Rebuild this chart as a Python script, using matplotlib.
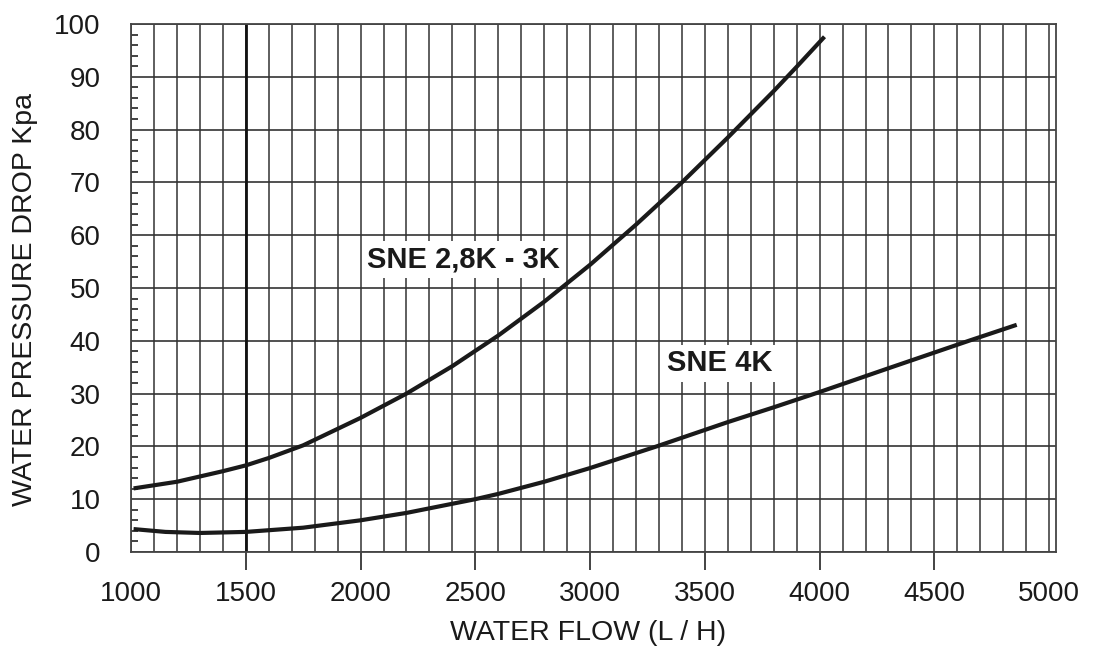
import matplotlib
matplotlib.use('Agg')
import matplotlib.pyplot as plt
from matplotlib.ticker import MultipleLocator

plt.rcParams['font.family'] = ['Liberation Sans', 'DejaVu Sans']

# (flow L/H, pressure drop kPa)
flow_sne_28k = [1020, 1200, 1400, 1500, 1600, 1750, 2000, 2200, 2400, 2600,
                2800, 3000, 3200, 3400, 3600, 3800, 3900, 4015]
drop_sne_28k = [12.1, 13.3, 15.3, 16.4, 17.8, 20.2, 25.4, 30.0, 35.2, 41.0,
                47.4, 54.4, 62.0, 70.0, 78.5, 87.3, 91.9, 97.3]

flow_sne_4k = [1020, 1150, 1300, 1500, 1750, 2000, 2200, 2500, 2600, 2800,
               3000, 3290, 3600, 3800, 4000, 4300, 4650, 4850]
drop_sne_4k = [4.3, 3.8, 3.6, 3.8, 4.6, 6.0, 7.4, 10.0, 11.0, 13.3,
               15.9, 20.0, 24.6, 27.4, 30.3, 34.8, 40.0, 42.9]

x_ticks = [1000, 1500, 2000, 2500, 3000, 3500, 4000, 4500, 5000]
y_ticks = [0, 10, 20, 30, 40, 50, 60, 70, 80, 90, 100]
marker_flow = 1500

curve_labels = ['SNE 2,8K - 3K', 'SNE 4K']
label_pos = [(2030, 55.4), (3335, 35.7)]

fig = plt.figure(figsize=(10.93, 6.49), dpi=100)
ax = fig.add_axes([0.1199, 0.1495, 0.8463, 0.8135])

ax.set_xlim(1000, 5030)
ax.set_ylim(0, 100)
ax.set_xticks(x_ticks)
ax.set_yticks(y_ticks)
ax.xaxis.set_minor_locator(MultipleLocator(100))
ax.yaxis.set_minor_locator(MultipleLocator(2))

# grid: every 100 L/H vertically, every 10 kPa horizontally
ax.grid(axis='x', which='both', color='#333333', linewidth=1.1, zorder=1)
ax.grid(axis='y', which='major', color='#333333', linewidth=1.2, zorder=1)
ax.set_axisbelow(True)

ax.axvline(marker_flow, color='#111111', linewidth=2.0, zorder=2)

ax.plot(flow_sne_28k, drop_sne_28k, color='#1a1a1a', linewidth=3.0, zorder=4)
ax.plot(flow_sne_4k, drop_sne_4k, color='#1a1a1a', linewidth=3.0, zorder=4)

for text, (tx, ty) in zip(curve_labels, label_pos):
    ax.text(tx, ty, text, fontsize=21, fontweight='bold', ha='left', va='center',
            color='#1a1a1a', zorder=3,
            bbox=dict(facecolor='white', edgecolor='none', pad=3))

ax.tick_params(axis='x', which='major', direction='out', length=13, width=1.2,
               color='#222222', labelsize=20, pad=8, labelcolor='#1a1a1a')
ax.tick_params(axis='x', which='minor', length=0)
ax.tick_params(axis='y', which='major', length=0, labelsize=20, pad=22,
               labelcolor='#1a1a1a')
ax.tick_params(axis='y', which='minor', direction='in', length=5, width=1.2,
               color='#222222')
xt = ax.xaxis.get_major_ticks()
xt[0].tick1line.set_visible(False)
xt[-1].tick1line.set_visible(False)

for s in ax.spines.values():
    s.set_color('#444444')
    s.set_linewidth(1.3)

fig.text(0.538, 0.0247, 'WATER FLOW (L / H)', fontsize=20.5, ha='center',
         va='center', color='#1a1a1a')
fig.text(0.0229, 0.538, 'WATER PRESSURE DROP Kpa', fontsize=20.5, rotation=90,
         ha='center', va='center', color='#1a1a1a')

fig.savefig('out.png', dpi=100)
